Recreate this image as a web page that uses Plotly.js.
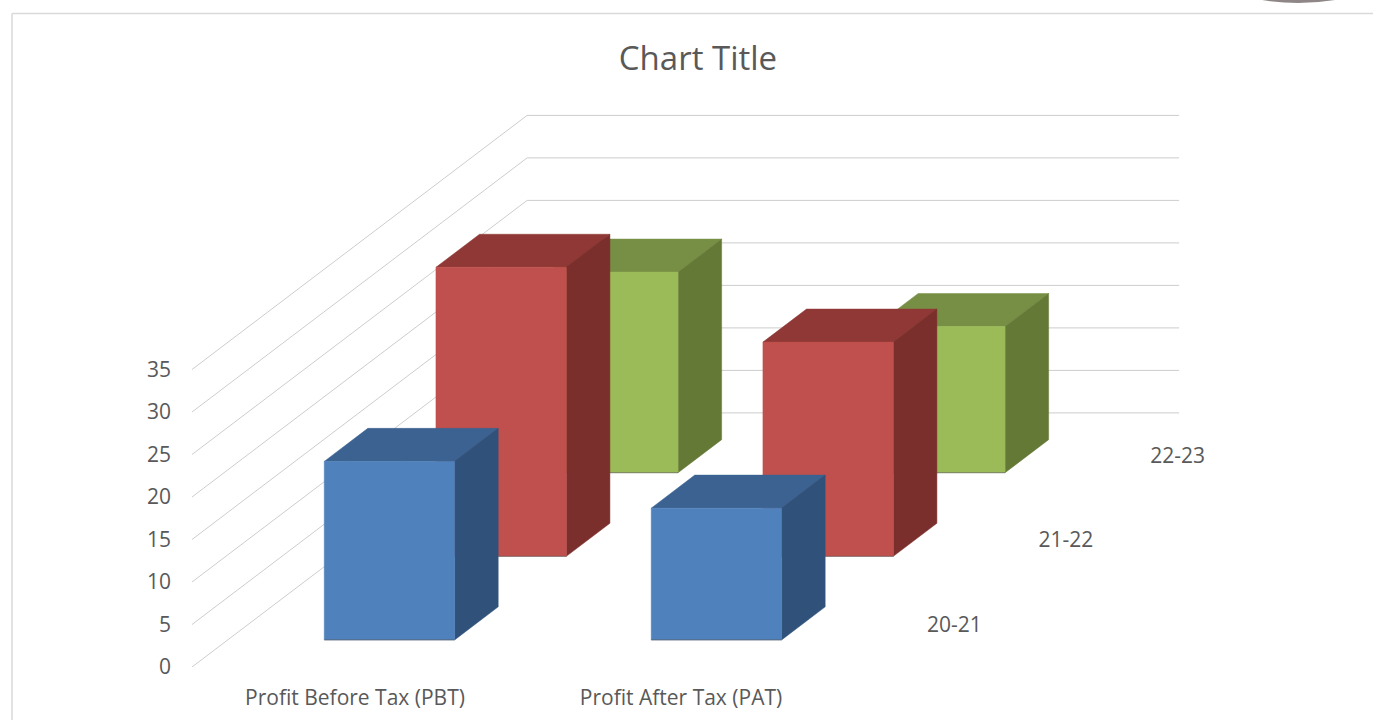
<!DOCTYPE html>
<html>
<head>
<meta charset="utf-8">
<script src="https://cdn.plot.ly/plotly-3.0.1.min.js"></script>
<style>html,body{margin:0;padding:0;background:#fff;overflow:hidden}</style>
</head>
<body>
<div id="chart" style="width:1373px;height:720px"></div>
<script>
const categories = ['Profit Before Tax (PBT)', 'Profit After Tax (PAT)'];
const seriesNames = ['20-21', '21-22', '22-23'];
const values2021 = [21, 15.5];
const values2122 = [34, 25.2];
const values2223 = [23.6, 17.2];
const yTicks = [0, 5, 10, 15, 20, 25, 30, 35];

const W = 1373, H = 720;
const plot = {l: 192, r: 1212, t: 100, b: 667};
const pxPerCat = 326, pxPerVal = 8.5;
const DX = 111.7 / pxPerCat, DY = 84.7 / pxPerVal;
const GAPX = 0.296, BARW = 0.4, GAPD = 0.32, BARD = 0.39, STEPD = 0.987;
const SERIES_NUDGE = 0.0045, CAT_NUDGE = 0.003;
const proj = (c, d, v) => [c + d * DX, v + d * DY];

const allValues = [values2021, values2122, values2223];
const faceColors = [
  {front: '#4F81BD', top: '#3B6290', side: '#30527A'},
  {front: '#C0504D', top: '#8F3836', side: '#7B2F2D'},
  {front: '#9BBB59', top: '#778F45', side: '#657937'}
];
const textColor = '#595959';
const gridColor = '#cdcdcd';
const base = {type: 'scatter', hoverinfo: 'skip', showlegend: false};

function poly(points) {
  const xs = [], ys = [];
  points.forEach(p => { xs.push(p[0]); ys.push(p[1]); });
  xs.push(points[0][0], null); ys.push(points[0][1], null);
  return [xs, ys];
}

const traces = [];

// walls' gridlines
const gx = [], gy = [];
yTicks.forEach(v => {
  [proj(0, 0, v), proj(0, 3, v), proj(2, 3, v)].forEach(p => { gx.push(p[0]); gy.push(p[1]); });
  gx.push(null); gy.push(null);
});
traces.push({...base, x: gx, y: gy, mode: 'lines', line: {color: gridColor, width: 1}});

// bars, back to front
for (let s = seriesNames.length - 1; s >= 0; s--) {
  const faces = {front: [[], []], top: [[], []], side: [[], []]};
  const edgeX = [], edgeY = [];
  allValues[s].forEach((v, c) => {
    const x0 = c * (1 + CAT_NUDGE) + GAPX + s * SERIES_NUDGE, x1 = x0 + BARW, d0 = s * STEPD + GAPD, d1 = d0 + BARD;
    const add = (name, pts) => {
      const r = poly(pts);
      faces[name][0].push(...r[0]); faces[name][1].push(...r[1]);
    };
    add('front', [proj(x0, d0, 0), proj(x1, d0, 0), proj(x1, d0, v), proj(x0, d0, v)]);
    add('top', [proj(x0, d0, v), proj(x1, d0, v), proj(x1, d1, v), proj(x0, d1, v)]);
    add('side', [proj(x1, d0, 0), proj(x1, d1, 0), proj(x1, d1, v), proj(x1, d0, v)]);
    const a = proj(x0, d0, 0), b = proj(x1, d0, 0);
    edgeX.push(a[0], b[0], null); edgeY.push(a[1], b[1], null);
  });
  ['top', 'side', 'front'].forEach(name => {
    traces.push({...base, x: faces[name][0], y: faces[name][1], mode: 'lines',
      fill: 'toself', fillcolor: faceColors[s][name],
      line: {color: faceColors[s][name], width: 0.5}});
  });
  traces.push({...base, x: edgeX, y: edgeY, mode: 'lines',
    line: {color: 'rgba(90,90,90,0.65)', width: 1}});
}

// depth axis labels
const depthLabelPts = seriesNames.map((n, s) => proj(2.167, s + 0.5, -0.25));
traces.push({...base, x: depthLabelPts.map(p => p[0]), y: depthLabelPts.map(p => p[1]),
  text: seriesNames, mode: 'text', textposition: 'middle center',
  textfont: {family: 'Open Sans', size: 21, color: textColor}, cliponaxis: false});

const px = x => x / W, py = y => 1 - y / H;
const layout = {
  width: W, height: H, autosize: false,
  margin: {l: 0, r: 0, t: 0, b: 0, pad: 0},
  paper_bgcolor: '#fff', plot_bgcolor: 'rgba(0,0,0,0)',
  showlegend: false,
  title: {text: 'Chart Title', x: px(698), y: py(58), xref: 'paper', yref: 'paper',
    xanchor: 'center', yanchor: 'middle',
    font: {family: 'Open Sans', size: 33, color: textColor}},
  xaxis: {domain: [px(plot.l), px(plot.r)], range: [0, (plot.r - plot.l) / pxPerCat],
    tickmode: 'array', tickvals: [0.5, 1.5], ticktext: categories,
    showgrid: false, zeroline: false, showline: false, ticks: '',
    ticklabelstandoff: 16, automargin: false,
    tickfont: {family: 'Open Sans', size: 21, color: textColor}},
  yaxis: {domain: [py(plot.b), py(plot.t)], range: [0, (plot.b - plot.t) / pxPerVal],
    tickmode: 'array', tickvals: yTicks, ticktext: yTicks.map(String),
    showgrid: false, zeroline: false, showline: false, ticks: '',
    ticklabelstandoff: 20, automargin: false,
    tickfont: {family: 'Open Sans', size: 21, color: textColor}},
  shapes: [
    {type: 'line', xref: 'paper', yref: 'paper', x0: px(12), x1: px(1373), y0: py(13.5), y1: py(13.5),
      line: {color: '#d9d9d9', width: 1.5}},
    {type: 'line', xref: 'paper', yref: 'paper', x0: px(12), x1: px(12), y0: py(13.5), y1: py(720),
      line: {color: '#d9d9d9', width: 1.5}},
    {type: 'path', xref: 'paper', yref: 'paper', layer: 'above',
      path: `M ${px(1262)} ${py(0)} Q ${px(1298)} ${py(6)} ${px(1335)} ${py(0)} Z`,
      fillcolor: '#8f8787', line: {width: 0}}
  ]
};
Plotly.newPlot('chart', traces, layout, {displayModeBar: false, responsive: false});
</script>
</body>
</html>
